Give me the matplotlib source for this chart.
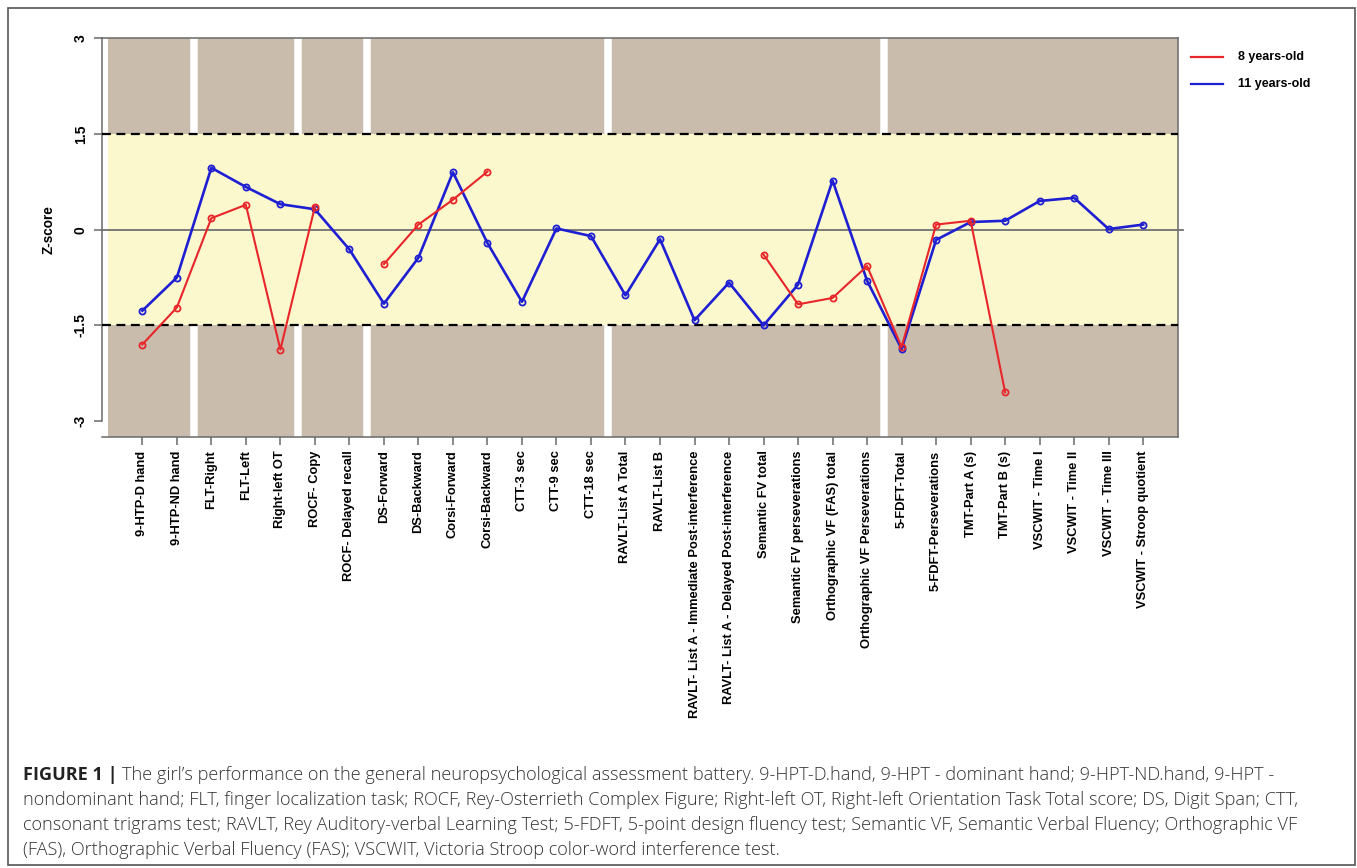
"""
Z-score profile over the neuropsychological battery, 8 vs 11 years old,
with the normal range (-1.5..1.5) shaded and test groups split by gaps.
"""

import numpy as np
import matplotlib.pyplot as plt
from matplotlib.lines import Line2D
from matplotlib.patches import Rectangle

plt.rcParams['font.family'] = ['Liberation Sans', 'DejaVu Sans']

# Test names along the x axis
tests = [
    '9-HTP-D hand', '9-HTP-ND hand', 'FLT-Right', 'FLT-Left', 'Right-left OT',
    'ROCF- Copy', 'ROCF- Delayed recall', 'DS-Forward', 'DS-Backward',
    'Corsi-Forward', 'Corsi-Backward', 'CTT-3 sec', 'CTT-9 sec', 'CTT-18 sec',
    'RAVLT-List A Total', 'RAVLT-List B',
    'RAVLT- List A - Immediate Post-interference',
    'RAVLT- List A - Delayed Post-interference',
    'Semantic FV total', 'Semantic FV perseverations',
    'Orthographic VF (FAS) total', 'Orthographic VF Perseverations',
    '5-FDFT-Total', '5-FDFT-Perseverations', 'TMT-Part A (s)', 'TMT-Part B (s)',
    'VSCWIT - Time I', 'VSCWIT - Time II', 'VSCWIT - Time III',
    'VSCWIT - Stroop quotient',
]

# Z-scores (NaN = not administered at that age)
nan = np.nan
z_8 = [-1.80, -1.22, 0.18, 0.39, -1.88, 0.36, nan, -0.54, 0.08, 0.47, 0.91,
       nan, nan, nan, nan, nan, nan, nan, -0.39, -1.17, -1.07, -0.57,
       -1.84, 0.08, 0.14, -2.55, nan, nan, nan, nan]
z_11 = [-1.27, -0.75, 0.97, 0.67, 0.40, 0.32, -0.31, -1.16, -0.44, 0.90, -0.21,
        -1.13, 0.02, -0.10, -1.03, -0.15, -1.42, -0.83, -1.50, -0.86, 0.77,
        -0.80, -1.87, -0.16, 0.12, 0.14, 0.45, 0.50, 0.01, 0.08]

# Positions between test groups
group_breaks = [2.5, 5.5, 7.5, 14.5, 22.5]

yticks = [-3, -1.5, 0, 1.5, 3]
ytick_labels = ['-3', '-1.5', '0', '1.5', '3']

caption_lines = [
    'The girl\u2019s performance on the general neuropsychological assessment battery. '
    '9-HPT-D.hand, 9-HPT - dominant hand; 9-HPT-ND.hand, 9-HPT -',
    'nondominant hand; FLT, finger localization task; ROCF, Rey-Osterrieth Complex Figure; '
    'Right-left OT, Right-left Orientation Task Total score; DS, Digit Span; CTT,',
    'consonant trigrams test; RAVLT, Rey Auditory-verbal Learning Test; 5-FDFT, 5-point design '
    'fluency test; Semantic VF, Semantic Verbal Fluency; Orthographic VF',
    '(FAS), Orthographic Verbal Fluency (FAS); VSCWIT, Victoria Stroop color-word interference test.',
]

W, H = 1357, 868
x = np.arange(1, len(tests) + 1)
x_lo, x_hi = -0.177, 31.0
y_lo, y_hi = -3.245, 3.0

BROWN = '#C9BCAD'
YELLOW = '#FCF8CE'
EDGE = '#6A6A6A'

fig = plt.figure(figsize=(W / 100, H / 100), dpi=100)
fig.patch.set_facecolor('white')
ax = fig.add_axes([101.7 / W, 1 - 436.7 / H, 1076 / W, 398.4 / H])
ax.set_xlim(x_lo, x_hi)
ax.set_ylim(y_lo, y_hi)
for s in ax.spines.values():
    s.set_visible(False)

# Background bands
ax.fill_between([0, 31], 1.5, 3.0, color=BROWN, lw=0, zorder=0)
ax.fill_between([0, 31], y_lo, -1.5, color=BROWN, lw=0, zorder=0)
ax.fill_between([0, 31], -1.5, 1.5, color=YELLOW, lw=0, zorder=0)
ax.vlines(group_breaks, 1.5, 3.0, color='white', lw=5.4, zorder=1)
ax.vlines(group_breaks, y_lo, -1.5, color='white', lw=5.4, zorder=1)

# Frame around the plotting region (open on the left)
ax.plot([x_lo, 31], [3, 3], color=EDGE, lw=1.1, zorder=2, clip_on=False)
ax.plot([x_lo, 31], [y_lo, y_lo], color=EDGE, lw=1.1, zorder=2, clip_on=False)
ax.plot([31, 31], [y_lo, 3], color=EDGE, lw=1.1, zorder=2, clip_on=False)
ax.plot([x_lo, x_lo], [-3, 3], color=EDGE, lw=1.1, zorder=2, clip_on=False)

# Reference lines
ax.plot([x_lo, 31.15], [0, 0], color='#707070', lw=1.3, zorder=2, clip_on=False)
for yv in (-1.5, 1.5):
    ax.plot([x_lo, 31.0], [yv, yv], color='black', lw=1.6,
            linestyle=(0, (4, 2.5)), zorder=3, clip_on=False)

# Data
ax.plot(x, z_11, color='#1E1ED2', lw=1.9, marker='o', ms=4.4,
        mfc='none', mew=1.3, zorder=4)
ax.plot(x, z_8, color='#E8262A', lw=1.5, marker='o', ms=4.4,
        mfc='none', mew=1.3, zorder=5)

# Axes ticks and labels
ax.set_xticks(x)
ax.set_xticklabels(tests, rotation=90, ha='center', va='top',
                   fontsize=9.3, fontweight='bold')
ax.set_yticks(yticks)
ax.set_yticklabels(ytick_labels, rotation=90, va='center',
                   fontsize=10, fontweight='bold')
ax.tick_params(axis='x', length=5.5, width=1.1, color=EDGE, pad=4.5)
ax.tick_params(axis='y', length=5.5, width=1.1, color=EDGE, pad=4.5)
ax.set_ylabel('Z-score', fontsize=9.8, fontweight='bold')
ax.yaxis.set_label_coords((56 - 101.7) / 1076, -y_lo / (y_hi - y_lo))

# Legend
for yy, col, lab in [(56.7, '#E8262A', '8 years-old'),
                     (84.3, '#1E1ED2', '11 years-old')]:
    fig.add_artist(Line2D([1190.7 / W, 1222.7 / W], [1 - yy / H, 1 - yy / H],
                          color=col, lw=1.6, transform=fig.transFigure))
    fig.text(1238.3 / W, 1 - yy / H, lab, fontsize=9, fontweight='bold',
             va='center', ha='left')

# Outer frame
fig.add_artist(Rectangle((7.5 / W, 1 - 865 / H), (1355.3 - 7.5) / W,
                         (865 - 8.3) / H, transform=fig.transFigure,
                         fill=False, edgecolor='#555555', lw=1.2))

# Caption
cap_font = ['Open Sans', 'DejaVu Sans']
cap_size = 13.1
renderer = fig.canvas.get_renderer()
baselines = [780, 805, 830, 855]
head = fig.text(22.7 / W, 1 - baselines[0] / H, 'FIGURE 1 |', family=cap_font,
                fontsize=cap_size, fontweight='bold', va='baseline', ha='left',
                color='#222222')
bb = head.get_window_extent(renderer=renderer)
fig.text((bb.x1 + 5) / W, 1 - baselines[0] / H, caption_lines[0],
         family=cap_font, fontsize=cap_size, fontweight='light',
         va='baseline', ha='left', color='#333333')
for yy, line in zip(baselines[1:], caption_lines[1:]):
    fig.text(22.7 / W, 1 - yy / H, line, family=cap_font, fontsize=cap_size,
             fontweight='light', va='baseline', ha='left', color='#333333')

fig.savefig('out.png', dpi=100)
